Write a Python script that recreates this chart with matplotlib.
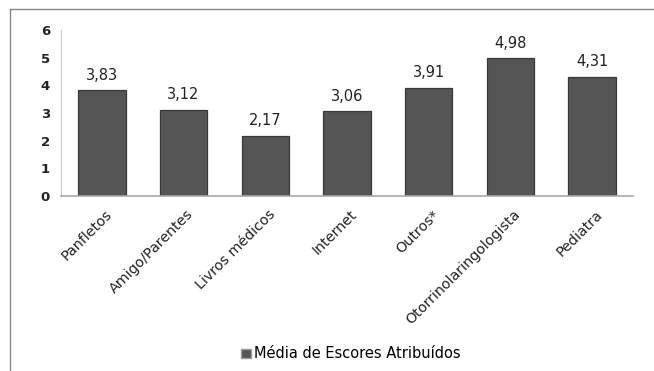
import matplotlib
matplotlib.use("Agg")
import matplotlib.pyplot as plt
import matplotlib.transforms as mtransforms
from matplotlib.lines import Line2D
from matplotlib.patches import Patch

categories = ["Panfletos", "Amigo/Parentes", "Livros médicos", "Internet",
              "Outros*", "Otorrinolaringologista", "Pediatra"]
values = [3.83, 3.12, 2.17, 3.06, 3.91, 4.98, 4.31]
yticks = [0, 1, 2, 3, 4, 5, 6]
legend_label = "Média de Escores Atribuídos"

plt.rcParams['font.family'] = ['DejaVu Sans']

fig = plt.figure(figsize=(6.54, 3.71), dpi=100)
ax = fig.add_axes([61/654, 1-196/371, (633-61)/654, (196-30)/371])

x = list(range(len(categories)))
bars = ax.bar(x, values, width=0.58, color="#555555", edgecolor="#383838", linewidth=0.9,
              label=legend_label)
for xi, v in zip(x, values):
    ax.text(xi, v + 0.27, f"{v:.2f}".replace(".", ","), ha="center", va="bottom",
            fontsize=10.5, color="#222222")

ax.set_xlim(-0.5, 6.5)
ax.set_ylim(0, 6)
ax.set_yticks(yticks)
ax.set_yticklabels([str(t) for t in yticks], fontsize=9.5, fontweight="bold", color="#222222")
ax.set_xticks(x)
ax.set_xticklabels(categories, rotation=45, ha="right", rotation_mode="anchor",
                   fontsize=10.3, color="#222222")
ax.tick_params(axis="both", length=0, pad=8)
ax.tick_params(axis="x", pad=6)
offset = mtransforms.ScaledTranslation(3/100, -3/100, fig.dpi_scale_trans)
for lbl in ax.get_xticklabels():
    lbl.set_transform(lbl.get_transform() + offset)
for s in ["top", "right"]:
    ax.spines[s].set_visible(False)
ax.spines["left"].set_color("#c8c8c8")
ax.spines["bottom"].set_color("#a8a8a8")
ax.spines["bottom"].set_linewidth(1.2)

handle = Patch(facecolor="#565656", edgecolor="#999999")
fig.legend([handle], [legend_label], loc="center", bbox_to_anchor=(351/654, 1-354/371),
           frameon=False, fontsize=10.5, handlelength=0.65, handleheight=0.65, handletextpad=0.2)

# outer border lines
fig.add_artist(Line2D([10/654, 10/654], [0, 1-9/371], transform=fig.transFigure,
                      color="#888888", linewidth=1))
fig.add_artist(Line2D([10/654, 1], [1-9/371, 1-9/371], transform=fig.transFigure,
                      color="#888888", linewidth=1))

fig.savefig("out.png", dpi=100)
